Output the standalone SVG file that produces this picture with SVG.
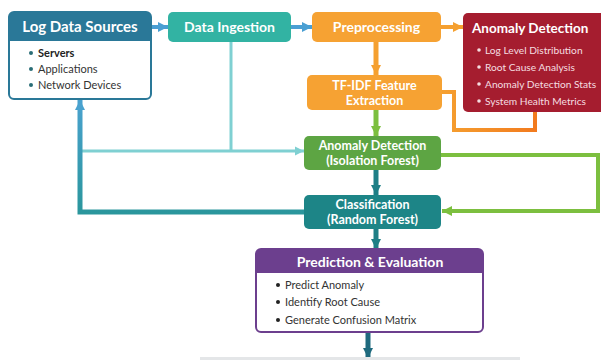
<svg xmlns="http://www.w3.org/2000/svg" width="601" height="360" viewBox="0 0 601 360">
<style>
text{font-family:Lato,"Open Sans","Liberation Sans",sans-serif}
.t{fill:#fff;font-weight:700;font-size:14px;text-anchor:middle}
.t15{font-size:15px}
.t13{font-size:12.5px}
.tr{font-size:13.5px;text-anchor:start}
.b{font-size:11px;fill:#333}
.rb{font-size:10.2px;fill:#f5dde0}
.ln{fill:none;stroke-linejoin:miter}
</style>
<defs>
<marker id="hBlue" markerUnits="userSpaceOnUse" viewBox="0 0 10 10" refX="10" refY="5" markerWidth="10" markerHeight="12" orient="auto"><path d="M0 0L10 5L0 10z" fill="#4a9fd3"/></marker>
<marker id="hOrange" markerUnits="userSpaceOnUse" viewBox="0 0 10 10" refX="10" refY="5" markerWidth="10" markerHeight="12" orient="auto"><path d="M0 0L10 5L0 10z" fill="#f5a030"/></marker>
<marker id="hGreen" markerUnits="userSpaceOnUse" viewBox="0 0 10 10" refX="10" refY="5" markerWidth="10" markerHeight="12" orient="auto"><path d="M0 0L10 5L0 10z" fill="#7cbf3f"/></marker>
<marker id="hTeal" markerUnits="userSpaceOnUse" viewBox="0 0 10 10" refX="10" refY="5" markerWidth="10" markerHeight="12" orient="auto"><path d="M0 0L10 5L0 10z" fill="#1e7f86"/></marker>
<marker id="hDark" markerUnits="userSpaceOnUse" viewBox="0 0 10 10" refX="10" refY="5" markerWidth="10" markerHeight="12" orient="auto"><path d="M0 0L10 5L0 10z" fill="#1f6a7e"/></marker>
<marker id="hLight" markerUnits="userSpaceOnUse" viewBox="0 0 10 10" refX="10" refY="5" markerWidth="9" markerHeight="10" orient="auto"><path d="M0 0L10 5L0 10z" fill="#7fd0d2"/></marker>
<marker id="hLeft" markerUnits="userSpaceOnUse" viewBox="0 0 10 10" refX="10" refY="5" markerWidth="10" markerHeight="12" orient="auto"><path d="M0 0L10 5L0 10z" fill="#4aa2cf"/></marker>
<linearGradient id="gLeft" gradientUnits="userSpaceOnUse" x1="0" y1="100" x2="0" y2="214"><stop offset="0" stop-color="#4aa2cf"/><stop offset="1" stop-color="#2a969c"/></linearGradient>
<linearGradient id="gOr" gradientUnits="userSpaceOnUse" x1="442" y1="0" x2="537" y2="0"><stop offset="0" stop-color="#f5a030"/><stop offset="1" stop-color="#f27a1e"/></linearGradient>
</defs>
<rect x="0" y="0" width="601" height="360" fill="#fff"/>

<g id="connectors">
<line x1="151" y1="27" x2="168" y2="27" stroke="#4a9fd3" stroke-width="4" marker-end="url(#hBlue)"/>
<line x1="291" y1="27" x2="312" y2="27" stroke="#4a9fd3" stroke-width="4" marker-end="url(#hBlue)"/>
<line x1="441" y1="27" x2="463" y2="27" stroke="#f5a030" stroke-width="4" marker-end="url(#hOrange)"/>
<line x1="376" y1="42" x2="376" y2="75" stroke="#f5a030" stroke-width="5" marker-end="url(#hOrange)"/>
<line x1="376" y1="110" x2="376" y2="136" stroke="#7cbf3f" stroke-width="5" marker-end="url(#hGreen)"/>
<line x1="376" y1="170" x2="376" y2="195" stroke="#1e7f86" stroke-width="5" marker-end="url(#hTeal)"/>
<line x1="376" y1="229" x2="376" y2="249" stroke="#1e7f86" stroke-width="5" marker-end="url(#hTeal)"/>
<line x1="368" y1="332" x2="368" y2="358" stroke="#1f6a7e" stroke-width="5" marker-end="url(#hDark)"/>
<polyline class="ln" points="442,92 454,92 454,130 535,130 535,112" stroke="url(#gOr)" stroke-width="4"/>
<polyline class="ln" points="441,155 598,155 598,211 442,211" stroke="#7cbf3f" stroke-width="4" marker-end="url(#hGreen)"/>
<polyline class="ln" points="231,42 231,151" stroke="#7fd0d2" stroke-width="3"/>
<polyline class="ln" points="80,151 304,151" stroke="#7fd0d2" stroke-width="3" marker-end="url(#hLight)"/>
<polyline class="ln" points="304,212 80,212 80,100" stroke="url(#gLeft)" stroke-width="5" marker-end="url(#hLeft)"/>
</g>

<g id="log-data-sources">
<rect x="9" y="12" width="142" height="87" rx="5" fill="#fff" stroke="#2a7898" stroke-width="2"/>
<path d="M9 41V17a5 5 0 0 1 5-5h132a5 5 0 0 1 5 5v24z" fill="#2a7898"/>
<text class="t t15" x="80" y="32">Log Data Sources</text>
<circle cx="31" cy="53" r="2" fill="#2a6d76"/><text class="b" x="38" y="57" style="font-weight:700;fill:#222">Servers</text>
<circle cx="31" cy="69" r="2" fill="#2a6d76"/><text class="b" x="38" y="73">Applications</text>
<circle cx="31" cy="85" r="2" fill="#2a6d76"/><text class="b" x="38" y="89">Network Devices</text>
</g>

<g id="data-ingestion">
<rect x="168" y="12" width="123" height="30" rx="5" fill="#32b3a3"/>
<text class="t" x="229.5" y="32">Data Ingestion</text>
</g>

<g id="preprocessing">
<rect x="312" y="12" width="129" height="30" rx="5" fill="#f6a233"/>
<text class="t" x="376.5" y="32">Preprocessing</text>
</g>

<g id="anomaly-detection-output">
<rect x="463" y="13" width="145" height="99" rx="5" fill="#a51d2f"/>
<text class="t tr" x="472" y="33">Anomaly Detection</text>
<circle cx="479" cy="50" r="1.8" fill="#f5dde0"/><text class="rb" x="485" y="54">Log Level Distribution</text>
<circle cx="479" cy="67" r="1.8" fill="#f5dde0"/><text class="rb" x="485" y="71">Root Cause Analysis</text>
<circle cx="479" cy="84" r="1.8" fill="#f5dde0"/><text class="rb" x="485" y="88">Anomaly Detection Stats</text>
<circle cx="479" cy="101" r="1.8" fill="#f5dde0"/><text class="rb" x="485" y="105">System Health Metrics</text>
</g>

<g id="tfidf">
<rect x="307" y="75" width="135" height="35" rx="5" fill="#f6a233"/>
<text class="t t13" x="374.5" y="90">TF-IDF Feature</text>
<text class="t t13" x="374.5" y="105">Extraction</text>
</g>

<g id="isolation-forest">
<rect x="304" y="136" width="137" height="34" rx="5" fill="#5da543"/>
<text class="t t13" x="372.5" y="150">Anomaly Detection</text>
<text class="t t13" x="372.5" y="165">(Isolation Forest)</text>
</g>

<g id="classification">
<rect x="304" y="195" width="137" height="34" rx="5" fill="#1d8587"/>
<text class="t t13" x="372.5" y="209">Classification</text>
<text class="t t13" x="372.5" y="224">(Random Forest)</text>
</g>

<g id="prediction">
<rect x="256" y="249" width="227" height="83" rx="5" fill="#fff" stroke="#6c3f8e" stroke-width="2"/>
<path d="M256 273V254a5 5 0 0 1 5-5h217a5 5 0 0 1 5 5v19z" fill="#6c3f8e"/>
<text class="t" x="370" y="267">Prediction &amp; Evaluation</text>
<circle cx="278" cy="285" r="2" fill="#222"/><text class="b" x="285" y="289">Predict Anomaly</text>
<circle cx="278" cy="302" r="2" fill="#222"/><text class="b" x="285" y="306">Identify Root Cause</text>
<circle cx="278" cy="320" r="2" fill="#222"/><text class="b" x="285" y="324">Generate Confusion Matrix</text>
</g>

<rect x="200" y="357" width="320" height="3" fill="#e4e6e8"/>
</svg>
